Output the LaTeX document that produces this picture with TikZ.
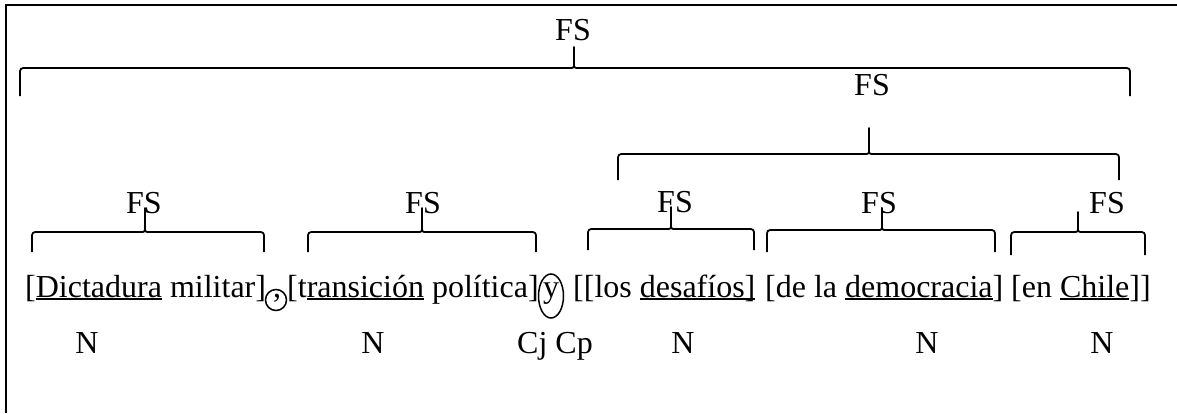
\documentclass[tikz,border=0pt]{standalone}
\usepackage{fontspec}
\setmainfont{Liberation Serif}

% underline with a fixed depth, independent of descenders
\newcommand\ulword[1]{\setbox0\hbox{#1}\rlap{\rule[-2.8pt]{\wd0}{1.6pt}}\box0\relax}

% horizontal curly brace: left x, right x, tip x, bar y, end y, tip y
\newcommand\curlybrace[6]{%
  \draw[bracestroke] (#1,#5) -- (#1,#4+7) .. controls (#1,#4) .. (#1+7,#4)
    -- (#3-5,#4) .. controls (#3,#4) .. (#3,#4-5) -- (#3,#6)
    -- (#3,#4-5) .. controls (#3,#4) .. (#3+5,#4)
    -- (#2-7,#4) .. controls (#2,#4) .. (#2,#4+7) -- (#2,#5);
}

\tikzset{
  lbl/.style={font=\fontsize{32}{38}\selectfont, inner sep=0pt, anchor=base},
  seg/.style={lbl, anchor=base west},
  bracestroke/.style={line width=1.8pt, line join=round},
  ring/.style={line width=1.5pt},
  frame/.style={line width=2pt}
}

\begin{document}
\begin{tikzpicture}[x=1pt,y=-1pt]
\useasboundingbox (0,0) rectangle (1177,413);

% frame
\draw[frame] (6,413) -- (6,5) -- (1177,5);

% category labels
\node[lbl] (fsTop) at (573,40) {FS};
\node[lbl] (fsMid) at (872,95) {FS};
\node[lbl] (fs1) at (144,213) {FS};
\node[lbl] (fs2) at (423,213) {FS};
\node[lbl] (fs3) at (675,212) {FS};
\node[lbl] (fs4) at (879,213) {FS};
\node[lbl] (fs5) at (1107,213) {FS};

% braces
\curlybrace{20}{1130}{574}{68}{96}{47}
\curlybrace{618}{1119}{869}{154}{180}{128}
\curlybrace{32}{264}{145}{232}{252}{208}
\curlybrace{308}{536}{422}{232}{252}{208}
\curlybrace{588}{754}{671}{229}{250}{207}
\curlybrace{767}{995}{882}{230}{252}{208}
\curlybrace{1011}{1145}{1078}{232}{255}{212}

% the bracketed phrase
\node[seg] (s1) at (25,297) {[\ulword{Dictadura} militar]};
\node[lbl] (comma) at (277,297) {,};
\draw[ring] (276,300) circle [radius=10.5pt];
\node[seg] (s2) at (287,297) {[t\ulword{ransición} política]};
\node[lbl] (conj) at (551,297) {y};
\draw[ring] (551,296) ellipse [x radius=12.5pt, y radius=22pt];
\node[seg] (s3) at (573,297) {[[los \ulword{desafíos]}};
\node[seg] (s4) at (765,297) {[de la \ulword{democracia}]};
\node[seg] (s5) at (1011,297) {[en \ulword{Chile}]]};

% word classes
\node[lbl] (n1) at (87,353) {N};
\node[lbl] (n2) at (373,353) {N};
\node[lbl] (cjcp) at (555,353) {Cj Cp};
\node[lbl] (n3) at (683,353) {N};
\node[lbl] (n4) at (927,353) {N};
\node[lbl] (n5) at (1102,353) {N};
\end{tikzpicture}
\end{document}
